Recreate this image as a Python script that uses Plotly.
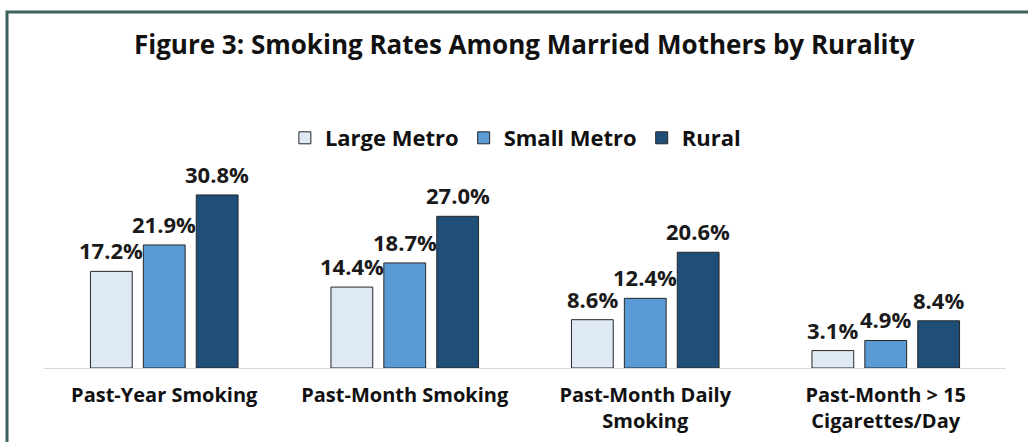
import plotly.graph_objects as go

# Data
categories = ["Past-Year Smoking", "Past-Month Smoking", "Past-Month Daily<br>Smoking",
              "Past-Month > 15<br>Cigarettes/Day"]
large_metro = [17.2, 14.4, 8.6, 3.1]
small_metro = [21.9, 18.7, 12.4, 4.9]
rural = [30.8, 27.0, 20.6, 8.4]

series = [
    ("Large Metro", large_metro, "#dee9f5"),
    ("Small Metro", small_metro, "#5b9bd5"),
    ("Rural", rural, "#1f4e79"),
]

FONT = "Open Sans, Lato, Arial, sans-serif"
label_shift = [-53, 0, 53]  # px offset of each bar inside its group

fig = go.Figure()
annotations = []
for i, (name, vals, color) in enumerate(series):
    fig.add_trace(go.Bar(
        x=categories,
        y=vals,
        name=name,
        marker=dict(color=color, line=dict(color="#262626", width=1)),
    ))
    for cat, v in zip(categories, vals):
        annotations.append(dict(
            x=cat, y=v, xref="x", yref="y",
            text=f"<b>{v:.1f}%</b>", showarrow=False,
            xanchor="center", yanchor="bottom",
            xshift=label_shift[i], yshift=4,
            font=dict(size=22, color="#1a1a1a", family=FONT),
        ))

# plot area in page pixels: x 44..1006, y 150..368
left, right, top, bottom = 44, 22, 150, 74
pw = 1028 - left - right
ph = 442 - top - bottom

fig.update_layout(
    width=1028,
    height=442,
    margin=dict(l=left, r=right, t=top, b=bottom, autoexpand=False),
    paper_bgcolor="white",
    plot_bgcolor="white",
    barmode="group",
    bargap=0.34,
    bargroupgap=0.21,
    annotations=annotations,
    title=dict(
        text="<b>Figure 3: Smoking Rates Among Married Mothers by Rurality</b>",
        x=0.51, xanchor="center", y=0.898, yanchor="middle",
        font=dict(size=26, color="#111111", family=FONT),
    ),
    legend=dict(
        orientation="h",
        x=0.49, xanchor="center",
        y=1.055, yanchor="middle",
        font=dict(size=22, color="#111111", family=FONT, weight="bold"),
        itemwidth=30,
        traceorder="normal",
    ),
    xaxis=dict(
        showline=True, linecolor="#d9d9d9", linewidth=1,
        ticks="", ticklabelstandoff=9, automargin=False,
        tickfont=dict(size=20, color="#111111", family=FONT, weight="bold"),
        showgrid=False,
    ),
    yaxis=dict(range=[0, 38.8], visible=False, showgrid=False, automargin=False),
    shapes=[dict(
        type="rect", xref="paper", yref="paper",
        x0=(7 - left) / pw, x1=1.2,
        y0=-0.6, y1=(442 - bottom - 12) / ph,
        line=dict(color="#3d625e", width=3),
        fillcolor="rgba(0,0,0,0)",
        layer="below",
    )],
)

# drop the default page margin so figure pixels line up with the window
fig.write_html("out.html", config={"displayModeBar": False},
               post_script="document.body.style.margin='0';")
